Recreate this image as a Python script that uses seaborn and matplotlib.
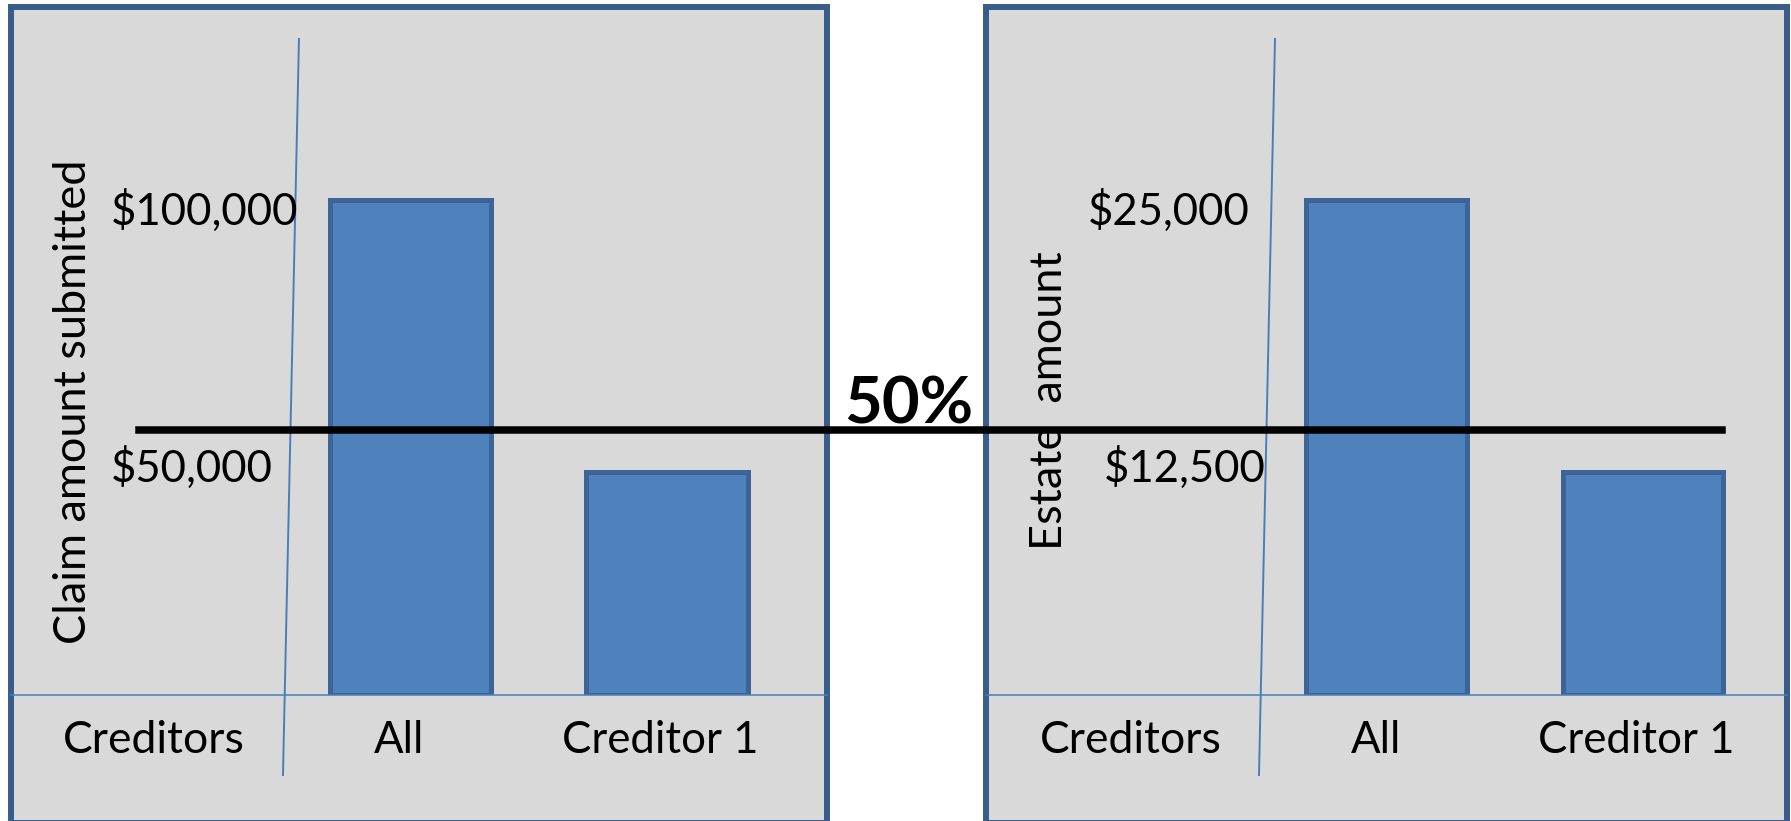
import matplotlib
matplotlib.use("Agg")
import matplotlib.pyplot as plt
import matplotlib.transforms as mtransforms
from matplotlib.patches import Rectangle
from matplotlib.lines import Line2D
import seaborn as sns

# ---------------- data ----------------
categories = ["All", "Creditor 1"]
claim_values = [100000, 45000]
estate_values = [25000, 11250]
claim_ticks = [100000, 50000]
claim_tick_labels = ["$100,000", "$50,000"]
estate_ticks = [25000, 12500]
estate_tick_labels = ["$25,000", "$12,500"]
claim_ylabel = "Claim amount submitted"
estate_ylabel = "Estate  amount"
x_title = "Creditors"
split_label = "50%"
split_level = 53500  # on the claim scale

# ---------------- style ----------------
plt.rcParams['font.family'] = ['Lato', 'DejaVu Sans']
FS_TICK = 31.5
FS_XLAB = 32
FS_YLAB = 32.5
BAR_FACE = "#4f81bd"
BAR_EDGE = "#3c6496"
PANEL_FACE = "#d9d9d9"
PANEL_EDGE = "#385d8a"
THIN_BLUE = "#4a7ebb"

DPI = 100
W, H = 1791, 821
fig = plt.figure(figsize=(W / DPI, H / DPI), dpi=DPI)
fig.patch.set_facecolor("white")

TOP_PX, BASE_PX, BOTTOM_PX = 7, 694.5, 823

panels = [
    dict(x0=11, x1=827, values=claim_values, ticks=claim_ticks, tlabels=claim_tick_labels,
         ylabel=claim_ylabel, ylim=138900, xlim=(-1.5575, 1.6238),
         tick_x=[0.1225, 0.1225], tick_dy=[8, 17], ylab_xy=(0.076, 0.426),
         slant=((0.3529, 0.9535), (0.3333, -0.1171))),
    dict(x0=986, x1=1787, values=estate_values, ticks=estate_ticks, tlabels=estate_tick_labels,
         ylabel=estate_ylabel, ylim=34725, xlim=(-1.5634, 1.5618),
         tick_x=[0.1273, 0.1467], tick_dy=[7.5, 17], ylab_xy=(0.0799, 0.4276),
         slant=((0.3608, 0.9535), (0.3408, -0.1171))),
]
XLABEL_DX = [-11, -7]  # px nudges of category labels

XPAD = 18  # points
axes = []
for p in panels:
    # panel background with border (extends below the figure edge)
    rect = Rectangle((p['x0'] / W, 1 - BOTTOM_PX / H), (p['x1'] - p['x0']) / W,
                     (BOTTOM_PX - TOP_PX) / H, transform=fig.transFigure,
                     facecolor=PANEL_FACE, edgecolor=PANEL_EDGE, linewidth=4.3, zorder=-10)
    fig.add_artist(rect)

    ax = fig.add_axes([p['x0'] / W, 1 - BASE_PX / H, (p['x1'] - p['x0']) / W,
                       (BASE_PX - TOP_PX) / H])
    ax.set_facecolor("none")
    sns.barplot(x=categories, y=p['values'], order=categories, color=BAR_FACE,
                saturation=1, width=0.628, edgecolor=BAR_EDGE, linewidth=3.6, ax=ax)
    ax.set_xlim(*p['xlim'])
    ax.set_ylim(0, p['ylim'])
    for s in ['top', 'left', 'right']:
        ax.spines[s].set_visible(False)
    ax.spines['bottom'].set_color(THIN_BLUE)
    ax.spines['bottom'].set_linewidth(1.1)

    # x tick labels
    ax.tick_params(axis='x', length=0, pad=XPAD, labelsize=FS_TICK, labelcolor='black')
    for lab, dx in zip(ax.get_xticklabels(), XLABEL_DX):
        lab.set_transform(lab.get_transform() +
                          mtransforms.ScaledTranslation(dx / DPI, 0, fig.dpi_scale_trans))
    ax_h_px = BASE_PX - TOP_PX
    ax.set_xlabel(x_title, fontsize=FS_XLAB)
    ax.xaxis.set_label_coords(-1, -(XPAD * DPI / 72) / ax_h_px,
                              transform=mtransforms.blended_transform_factory(ax.transData, ax.transAxes))
    ax.xaxis.label.set_va('top')

    # y ticks
    ax.set_yticks(p['ticks'], p['tlabels'])
    ax.tick_params(axis='y', length=0, pad=0, labelsize=FS_TICK)
    for lab, xf, dy in zip(ax.get_yticklabels(), p['tick_x'], p['tick_dy']):
        lab.set_ha('left')
        lab.set_x(xf)
        lab.set_transform(lab.get_transform() +
                          mtransforms.ScaledTranslation(0, -dy / DPI, fig.dpi_scale_trans))

    # y label
    ax.set_ylabel(p['ylabel'], fontsize=FS_YLAB)
    ax.yaxis.set_label_coords(*p['ylab_xy'])
    ax.yaxis.label.set_va('center')

    # slanted thin axis line
    (sx0, sy0), (sx1, sy1) = p['slant']
    ax.add_line(Line2D([sx0, sx1], [sy0, sy1], transform=ax.transAxes, color=THIN_BLUE,
                       linewidth=1.4, clip_on=False, zorder=1))
    axes.append(ax)

# 50% split line across both panels
tr = mtransforms.blended_transform_factory(fig.transFigure, axes[0].transData)
fig.add_artist(Line2D([139 / W, 1722 / W], [split_level, split_level], transform=tr,
                      color='black', linewidth=5.4, zorder=20))
fig.text(908.5 / W, 1 - 423 / H, split_label, ha='center', va='baseline',
         fontsize=47, fontweight='bold', color='black', zorder=21)

fig.savefig("out.png", dpi=DPI)
